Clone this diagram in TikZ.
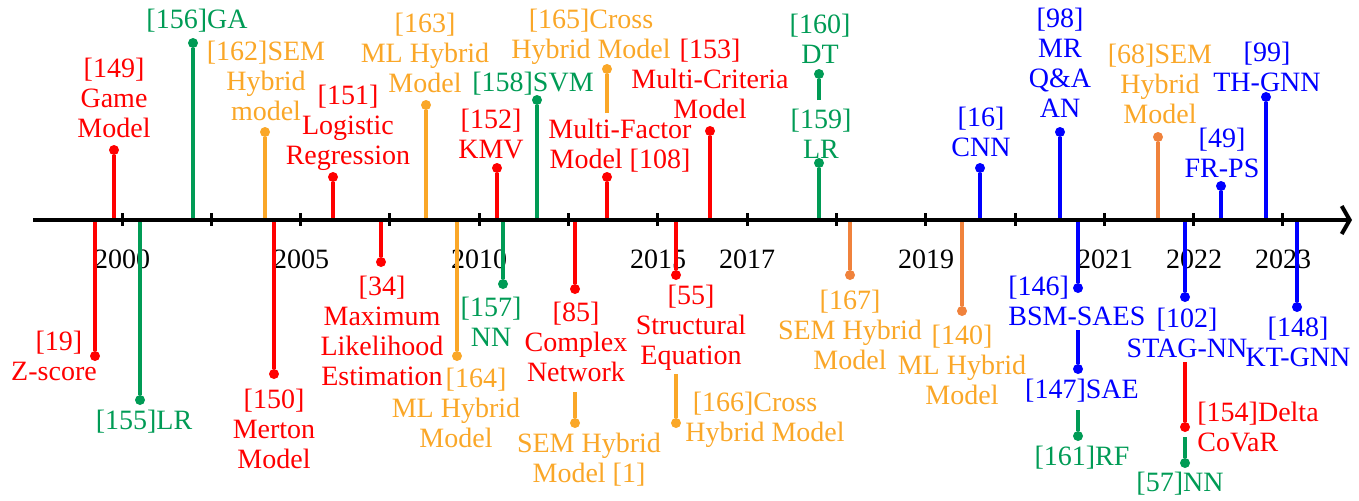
\documentclass[tikz,border=0pt]{standalone}
\usepackage{fontspec}
\setmainfont{Liberation Serif}
\usepackage{tikz}
\usetikzlibrary{arrows.meta}
\definecolor{myred}{RGB}{255,0,0}
\definecolor{mygreen}{RGB}{0,155,85}
\definecolor{myorange}{RGB}{250,167,40}
\definecolor{mydarkorange}{RGB}{240,130,60}
\definecolor{myblue}{RGB}{0,0,255}
\tikzset{
  knob/.style={circle, fill=#1, inner sep=0pt, minimum size=5pt},
  stem/.style={draw=#1, line width=1.6pt},
  lab/.style={text=#1, align=center, inner sep=0pt},
  year/.style={inner sep=0pt},
  axis/.style={line width=2pt, -{Straight Barb[length=4pt, width=14pt]}},
  tick/.style={line width=1.5pt}
}

\begin{document}
\begin{tikzpicture}[x=0.5pt, y=-0.5pt, font=\fontsize{14}{15}\selectfont]
\useasboundingbox (0,0) rectangle (1359,500);
% time axis
\coordinate (start) at (33,220);
\coordinate (end) at (1352,220);
\foreach \i in {0,...,13} \draw[tick] (122+89.3*\i,213) -- (122+89.3*\i,226);
\node[year] (y2000) at (122,259) {2000};
\node[year] (y2005) at (301,259) {2005};
\node[year] (y2010) at (479,259) {2010};
\node[year] (y2015) at (658,259) {2015};
\node[year] (y2017) at (747,259) {2017};
\node[year] (y2019) at (926,259) {2019};
\node[year] (y2021) at (1105,259) {2021};
\node[year] (y2022) at (1194,259) {2022};
\node[year] (y2023) at (1283,259) {2023};
%
% above the axis
\coordinate (a149) at (114,220); \node[knob=myred] (d149) at (114,150) {}; \draw[stem=myred] (a149) -- (d149);
\node[lab=myred] (l149) at (114,98) {[149]\\Game\\Model};
\coordinate (a156) at (193,220); \node[knob=mygreen] (d156) at (193,43) {}; \draw[stem=mygreen] (a156) -- (d156);
\node[lab=mygreen] (l156) at (197,21) {[156]GA};
\coordinate (a162) at (265,220); \node[knob=myorange] (d162) at (265,132) {}; \draw[stem=myorange] (a162) -- (d162);
\node[lab=myorange] (l162) at (266,81) {[162]SEM\\Hybrid\\model};
\coordinate (a151) at (333,220); \node[knob=myred] (d151) at (333,177) {}; \draw[stem=myred] (a151) -- (d151);
\node[lab=myred] (l151) at (348,128) {[151]\\Logistic\\Regression};
\coordinate (a163) at (426,220); \node[knob=myorange] (d163) at (426,105) {}; \draw[stem=myorange] (a163) -- (d163);
\node[lab=myorange] (l163) at (425,53) {[163]\\ML Hybrid\\Model};
\coordinate (a152) at (497,220); \node[knob=myred] (d152) at (497,168) {}; \draw[stem=myred] (a152) -- (d152);
\node[lab=myred] (l152) at (491,134) {[152]\\KMV};
\coordinate (a158) at (537,220); \node[knob=mygreen] (d158) at (537,100) {}; \draw[stem=mygreen] (a158) -- (d158);
\node[lab=mygreen] (l158) at (533,84) {[158]SVM};
\coordinate (s165) at (607,113); \node[knob=myorange] (d165) at (607,69) {}; \draw[stem=myorange] (s165) -- (d165);
\node[lab=myorange] (l165) at (591,37) {[165]Cross\\Hybrid Model};
\coordinate (a108) at (607,220); \node[knob=myred] (d108) at (607,177) {}; \draw[stem=myred] (a108) -- (d108);
\node[lab=myred] (l108) at (620,146) {Multi-Factor\\Model [108]};
\coordinate (a153) at (710,220); \node[knob=myred] (d153) at (710,131) {}; \draw[stem=myred] (a153) -- (d153);
\node[lab=myred] (l153) at (710,79) {[153]\\Multi-Criteria\\Model};
\coordinate (s160) at (819,100); \node[knob=mygreen] (d160) at (819,74) {}; \draw[stem=mygreen] (s160) -- (d160);
\node[lab=mygreen] (l160) at (820,39) {[160]\\DT};
\coordinate (a159) at (819,220); \node[knob=mygreen] (d159) at (819,163) {}; \draw[stem=mygreen] (a159) -- (d159);
\node[lab=mygreen] (l159) at (821,134) {[159]\\LR};
\coordinate (a16) at (980,220); \node[knob=myblue] (d16) at (980,168) {}; \draw[stem=myblue] (a16) -- (d16);
\node[lab=myblue] (l16) at (981,132) {[16]\\CNN};
\coordinate (a98) at (1060,220); \node[knob=myblue] (d98) at (1060,132) {}; \draw[stem=myblue] (a98) -- (d98);
\node[lab=myblue] (l98) at (1060,63) {[98]\\MR\\Q\&A\\AN};
\coordinate (a68) at (1158,220); \node[knob=mydarkorange] (d68) at (1158,137) {}; \draw[stem=mydarkorange] (a68) -- (d68);
\node[lab=myorange] (l68) at (1160,84) {[68]SEM\\Hybrid\\Model};
\coordinate (a49) at (1221,220); \node[knob=myblue] (d49) at (1221,186) {}; \draw[stem=myblue] (a49) -- (d49);
\node[lab=myblue] (l49) at (1222,153) {[49]\\FR-PS};
\coordinate (a99) at (1266,220); \node[knob=myblue] (d99) at (1266,97) {}; \draw[stem=myblue] (a99) -- (d99);
\node[lab=myblue] (l99) at (1267,67) {[99]\\TH-GNN};
%
% below the axis
\coordinate (a19) at (95,220); \node[knob=myred] (d19) at (95,356) {}; \draw[stem=myred] (a19) -- (d19);
\node[lab=myred] (l19) at (54,356) {\hspace*{5pt}[19]\\Z-score};
\coordinate (a155) at (140,220); \node[knob=mygreen] (d155) at (140,400) {}; \draw[stem=mygreen] (a155) -- (d155);
\node[lab=mygreen] (l155) at (144,422) {[155]LR};
\coordinate (a150) at (274,220); \node[knob=myred] (d150) at (274,374) {}; \draw[stem=myred] (a150) -- (d150);
\node[lab=myred] (l150) at (274,429) {[150]\\Merton\\Model};
\coordinate (a34) at (381,220); \node[knob=myred] (d34) at (381,262) {}; \draw[stem=myred] (a34) -- (d34);
\node[lab=myred] (l34) at (382,331) {[34]\\Maximum\\Likelihood\\Estimation};
\coordinate (a164) at (457,220); \node[knob=myorange] (d164) at (457,356) {}; \draw[stem=myorange] (a164) -- (d164);
\node[lab=myorange] (l164) at (456,408) {\hspace*{20pt}[164]\\ML Hybrid\\Model};
\coordinate (a157) at (503,220); \node[knob=mygreen] (d157) at (503,284) {}; \draw[stem=mygreen] (a157) -- (d157);
\node[lab=mygreen] (l157) at (491,322) {[157]\\NN};
\coordinate (a85) at (575,220); \node[knob=myred] (d85) at (575,289) {}; \draw[stem=myred] (a85) -- (d85);
\node[lab=myred] (l85) at (576,342) {[85]\\Complex\\Network};
\coordinate (s1) at (575,392); \node[knob=myorange] (d1) at (575,423) {}; \draw[stem=myorange] (s1) -- (d1);
\node[lab=myorange] (l1) at (589,460) {SEM Hybrid\\Model [1]};
\coordinate (a55) at (676,220); \node[knob=myred] (d55) at (676,275) {}; \draw[stem=myred] (a55) -- (d55);
\node[lab=myred] (l55) at (691,328) {[55]\\Structural\\Equation};
\coordinate (s166) at (676,374); \node[knob=myorange] (d166) at (676,423) {}; \draw[stem=myorange] (s166) -- (d166);
\node[lab=myorange] (l166) at (765,420) {[166]Cross\hspace*{10pt}\\Hybrid Model};
\coordinate (a167) at (850,220); \node[knob=mydarkorange] (d167) at (850,275) {}; \draw[stem=mydarkorange] (a167) -- (d167);
\node[lab=myorange] (l167) at (850,330) {[167]\\SEM Hybrid\\Model};
\coordinate (a140) at (962,220); \node[knob=mydarkorange] (d140) at (962,311) {}; \draw[stem=mydarkorange] (a140) -- (d140);
\node[lab=myorange] (l140) at (962,365) {[140]\\ML Hybrid\\Model};
\coordinate (a146) at (1078,220); \node[knob=myblue] (d146) at (1078,288) {}; \draw[stem=myblue] (a146) -- (d146);
\node[lab=myblue, align=left, anchor=west] (l146) at (1008,301) {[146]\\BSM-SAES};
\coordinate (s147) at (1078,330); \node[knob=myblue] (d147) at (1078,369) {}; \draw[stem=myblue] (s147) -- (d147);
\node[lab=myblue] (l147) at (1082,391) {[147]SAE};
\coordinate (s161) at (1078,410); \node[knob=mygreen] (d161) at (1078,436) {}; \draw[stem=mygreen] (s161) -- (d161);
\node[lab=mygreen] (l161) at (1082,458) {[161]RF};
\coordinate (a102) at (1185,220); \node[knob=myblue] (d102) at (1185,297) {}; \draw[stem=myblue] (a102) -- (d102);
\node[lab=myblue] (l102) at (1187,333) {[102]\\STAG-NN};
\coordinate (s154) at (1185,362); \node[knob=myred] (d154) at (1185,427) {}; \draw[stem=myred] (s154) -- (d154);
\node[lab=myred, align=left, anchor=west] (l154) at (1197,427) {[154]Delta\\CoVaR};
\coordinate (s57) at (1185,437); \node[knob=mygreen] (d57) at (1185,463) {}; \draw[stem=mygreen] (s57) -- (d57);
\node[lab=mygreen] (l57) at (1180,484) {[57]NN};
\coordinate (a148) at (1297,220); \node[knob=myblue] (d148) at (1297,307) {}; \draw[stem=myblue] (a148) -- (d148);
\node[lab=myblue] (l148) at (1298,342) {[148]\\KT-GNN};
%
\draw[axis] (start) -- (end);
\end{tikzpicture}
\end{document}
